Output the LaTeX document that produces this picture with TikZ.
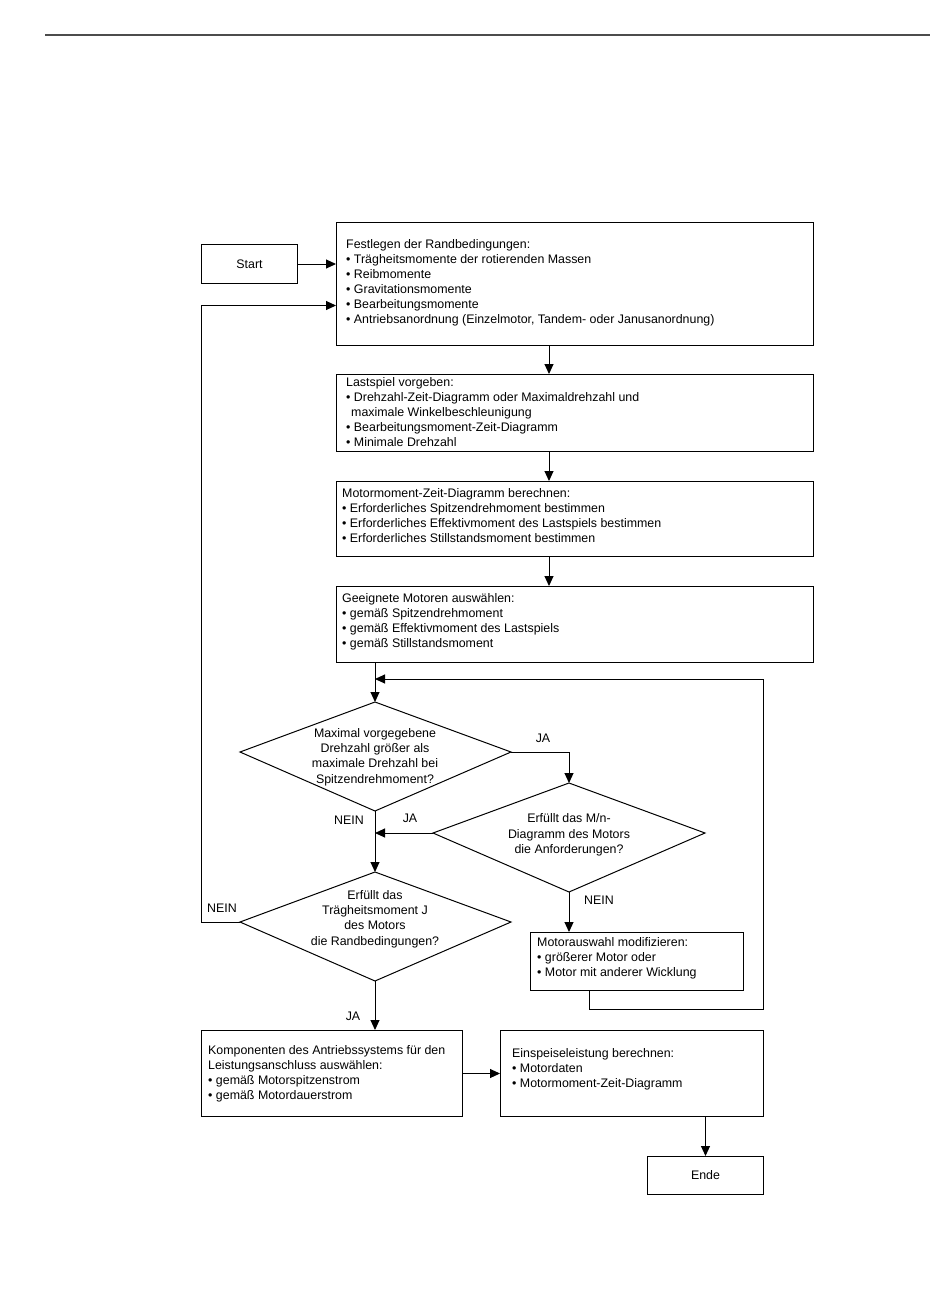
\documentclass[tikz,border=0pt]{standalone}
\usepackage{fontspec}
\setmainfont{Liberation Sans}
\usetikzlibrary{arrows.meta,calc}
\begin{document}
\begin{tikzpicture}[x=1pt,y=-1pt,
  box/.style={draw, line width=1pt, anchor=north west, inner sep=0pt, font=\fontsize{12.4}{15}\selectfont},
  dtxt/.style={inner sep=0pt, align=center, font=\fontsize{12.4}{15.3}\selectfont},
  txt/.style={anchor=north west, align=left, inner sep=0pt, font=\fontsize{12.4}{15}\selectfont},
  lab/.style={inner sep=0pt, font=\fontsize{12.4}{14}\selectfont},
  arr/.style={line width=1pt, -{Triangle[length=10pt,width=9pt]}},
  ln/.style={line width=1pt}]
\useasboundingbox (0,0) rectangle (950,1302);
\draw[line width=1.6pt, black!70] (45,35) -- (930,35);

% boxes
\node[box, minimum width=96, minimum height=39] (start) at (201,244) {Start};
\node[box, minimum width=477, minimum height=123] (b1) at (336,222) {};
\node[txt] (t1) at (346,238) {\strut Festlegen der Randbedingungen:\\
• Trägheitsmomente der rotierenden Massen\\
• Reibmomente\\
• Gravitationsmomente\\
• Bearbeitungsmomente\\
• Antriebsanordnung (Einzelmotor, Tandem- oder Janusanordnung)};

\node[box, minimum width=477, minimum height=77] (b2) at (336,374) {};
\node[txt] (t2) at (346,376) {\strut Lastspiel vorgeben:\\
• Drehzahl-Zeit-Diagramm oder Maximaldrehzahl und\\
\hspace*{5pt}maximale Winkelbeschleunigung\\
• Bearbeitungsmoment-Zeit-Diagramm\\
• Minimale Drehzahl};

\node[box, minimum width=477, minimum height=75] (b3) at (336,481) {};
\node[txt] (t3) at (342,487) {\strut Motormoment-Zeit-Diagramm berechnen:\\
• Erforderliches Spitzendrehmoment bestimmen\\
• Erforderliches Effektivmoment des Lastspiels bestimmen\\
• Erforderliches Stillstandsmoment bestimmen};

\node[box, minimum width=477, minimum height=76] (b4) at (336,586) {};
\node[txt] (t4) at (342,592) {\strut Geeignete Motoren auswählen:\\
• gemäß Spitzendrehmoment\\
• gemäß Effektivmoment des Lastspiels\\
• gemäß Stillstandsmoment};

% diamonds
\coordinate (d1t) at (375,702); \coordinate (d1r) at (511,752);
\coordinate (d1b) at (375,811); \coordinate (d1l) at (240,752);
\draw[ln] (d1t) -- (d1r) -- (d1b) -- (d1l) -- cycle;
\node[dtxt] (d1) at (375,757) {Maximal vorgegebene\\ Drehzahl größer als\\ maximale Drehzahl bei\\ Spitzendrehmoment?};

\coordinate (d2t) at (569,783); \coordinate (d2r) at (705,833);
\coordinate (d2b) at (569,892); \coordinate (d2l) at (433,833);
\draw[ln] (d2t) -- (d2r) -- (d2b) -- (d2l) -- cycle;
\node[dtxt] (d2) at (569,835) {Erfüllt das M/n-\\ Diagramm des Motors\\ die Anforderungen?};

\coordinate (d3t) at (375,872); \coordinate (d3r) at (511,922);
\coordinate (d3b) at (375,981); \coordinate (d3l) at (240,922);
\draw[ln] (d3t) -- (d3r) -- (d3b) -- (d3l) -- cycle;
\node[dtxt] (d3) at (375,919) {Erfüllt das\\ Trägheitsmoment J\\ des Motors\\ die Randbedingungen?};

\node[box, minimum width=213, minimum height=58] (b6) at (530,932) {};
\node[txt] (t6) at (537,936) {\strut Motorauswahl modifizieren:\\
• größerer Motor oder\\
• Motor mit anderer Wicklung};

\node[box, minimum width=261, minimum height=86] (b5) at (201,1030) {};
\node[txt] (t5) at (208,1044) {\strut Komponenten des Antriebssystems für den\\
Leistungsanschluss auswählen:\\
• gemäß Motorspitzenstrom\\
• gemäß Motordauerstrom};

\node[box, minimum width=263, minimum height=86] (b7) at (500,1030) {};
\node[txt] (t7) at (512,1047) {\strut Einspeiseleistung berechnen:\\
• Motordaten\\
• Motormoment-Zeit-Diagramm};

\node[box, minimum width=116, minimum height=38] (ende) at (647,1156) {Ende};

% labels
\node[lab] (ja1) at (543,738) {JA};
\node[lab] (ja2) at (410,818) {JA};
\node[lab] (nein1) at (349,820) {NEIN};
\node[lab] (nein2) at (222,908) {NEIN};
\node[lab] (ja3) at (353,1016) {JA};
\node[lab] (nein3) at (599,900) {NEIN};

% connectors
\coordinate (cx) at (549,0);
\draw[arr] (start.east) -- (start.east -| b1.west);
\draw[arr] (b1.south -| cx) -- (b2.north -| cx);
\draw[arr] (b2.south -| cx) -- (b3.north -| cx);
\draw[arr] (b3.south -| cx) -- (b4.north -| cx);
\draw[arr] (b4.south -| d1t) -- (d1t);
\draw[arr] (d1r) -| (d2t);
\draw[arr] (d1b) -- (d3t);
\draw[arr] (d2l) -- (d2l -| d1b);
\draw[arr] (d2b) -- (d2b |- b6.north);
\coordinate (lp) at (763,1009);
\draw[arr] ($(b6.south west)+(59,0)$) |- (lp) |- ($(d1t)+(0,-23)$);
\draw[arr] (d3l) -- (d3l -| start.west) |- ($(b1.west)+(0,21.5)$);
\draw[arr] (d3b) -- (d3b |- b5.north);
\draw[arr] (b5.east) -- (b7.west);
\draw[arr] (b7.south -| ende.north) -- (ende.north);
\end{tikzpicture}
\end{document}
